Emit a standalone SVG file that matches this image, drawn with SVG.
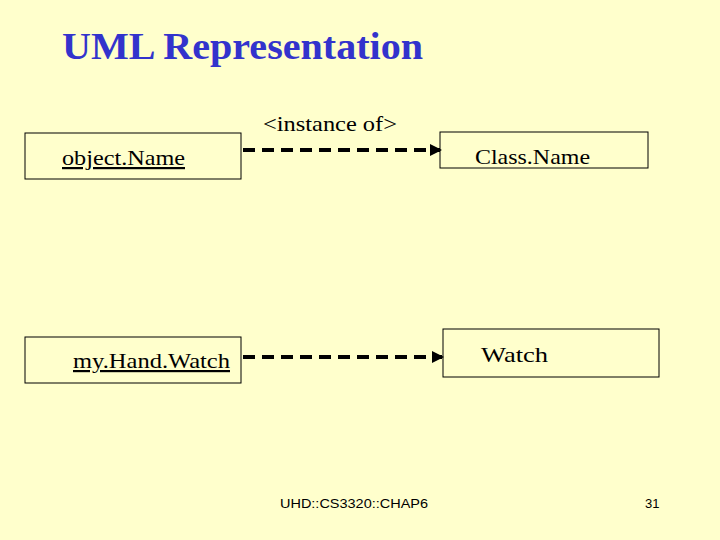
<svg xmlns="http://www.w3.org/2000/svg" width="720" height="540" viewBox="0 0 720 540">
<defs><marker id="ah" markerWidth="3" markerHeight="3" refX="2.5" refY="1.5" orient="auto" markerUnits="strokeWidth"><path d="M0,0 L3,1.5 L0,3 Z" fill="#000"/></marker></defs>
<style>
.box{fill:#FFFFCC;stroke:#000;stroke-width:1}
.t{font-family:"Liberation Serif",serif;font-size:22px;fill:#000}
.c{stroke:#000;stroke-width:4;stroke-dasharray:12,7;fill:none}
</style>
<rect width="720" height="540" fill="#FFFFCC"/>
<text x="62" y="59" font-family="Liberation Serif,serif" font-size="37" font-weight="bold" fill="#3333CC" textLength="361" lengthAdjust="spacingAndGlyphs">UML Representation</text>
<g id="objectName"><rect class="box" x="25" y="133" width="216" height="46"/><text class="t" x="62" y="165" text-decoration="underline" textLength="123" lengthAdjust="spacingAndGlyphs">object.Name</text></g>
<g id="className"><rect class="box" x="440" y="132" width="208" height="36"/><text class="t" x="475" y="164" textLength="115" lengthAdjust="spacingAndGlyphs">Class.Name</text></g>
<g id="myHandWatch"><rect class="box" x="25" y="337" width="216" height="46"/><text class="t" x="73" y="368" text-decoration="underline" textLength="157" lengthAdjust="spacingAndGlyphs">my.Hand.Watch</text></g>
<g id="watch"><rect class="box" x="443" y="329" width="216" height="48"/><text class="t" x="481" y="362" textLength="67" lengthAdjust="spacingAndGlyphs">Watch</text></g>
<g id="connectors">
<line class="c" x1="243" y1="150" x2="440" y2="150" marker-end="url(#ah)"/>
<line class="c" x1="243" y1="357" x2="442" y2="357" marker-end="url(#ah)"/>
</g>
<text class="t" x="263" y="131" textLength="134" lengthAdjust="spacingAndGlyphs">&lt;instance of&gt;</text>
<text x="280" y="508" font-family="Liberation Sans,sans-serif" font-size="13" textLength="148" lengthAdjust="spacingAndGlyphs">UHD::CS3320::CHAP6</text>
<text x="645" y="508" font-family="Liberation Sans,sans-serif" font-size="13">31</text>
</svg>
